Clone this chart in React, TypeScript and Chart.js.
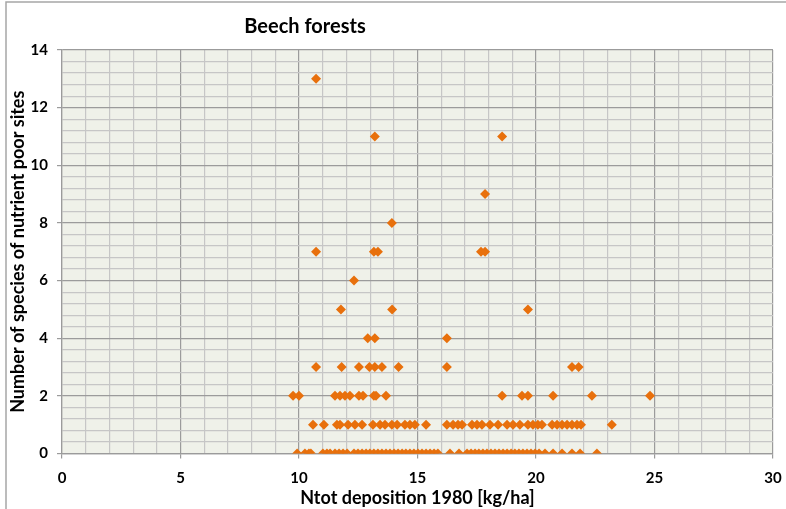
import React, { useEffect, useRef } from "react";
import { Chart, registerables } from "chart.js";

Chart.register(...registerables);

const chartTitle = "Beech forests";
const xTitle = "Ntot deposition 1980 [kg/ha]";
const yTitle = "Number of species of nutrient poor sites";

// Ntot deposition values for sites, grouped by number of species
const depositionAt0 = [9.92, 10.25, 10.42, 10.5, 11.01, 11.18, 11.31, 11.52, 11.69, 11.86, 12.03, 12.32, 12.49, 12.66, 12.83, 12.99, 13.16, 13.33, 13.5, 13.67, 13.84, 14.01, 14.18, 14.35, 14.51, 14.68, 14.85, 15.02, 15.19, 15.36, 15.53, 15.7, 15.86, 16.37, 16.75, 17.09, 17.26, 17.43, 17.59, 17.76, 17.93, 18.1, 18.27, 18.44, 18.61, 18.78, 18.95, 19.11, 19.28, 19.45, 19.62, 19.79, 19.96, 20.13, 20.38, 20.72, 21.1, 21.52, 21.86, 22.57];
const depositionAt1 = [10.59, 11.05, 11.6, 11.73, 12.07, 12.36, 12.66, 13.12, 13.42, 13.63, 13.92, 14.14, 14.47, 14.68, 14.89, 15.36, 16.24, 16.5, 16.71, 16.88, 17.3, 17.51, 17.72, 18.06, 18.4, 18.78, 19.03, 19.32, 19.66, 19.87, 20.08, 20.25, 20.68, 20.89, 21.1, 21.31, 21.52, 21.73, 21.9, 23.2];
const depositionAt2 = [9.75, 10.0, 11.52, 11.73, 11.94, 12.15, 12.53, 12.7, 13.16, 13.25, 13.67, 18.57, 19.41, 19.66, 20.72, 22.36, 24.81];
const depositionAt3 = [10.72, 11.8, 12.53, 12.97, 13.2, 13.5, 14.2, 16.24, 21.52, 21.8];
const depositionAt4 = [12.9, 13.2, 16.24];
const depositionAt5 = [11.77, 13.93, 19.66];
const depositionAt6 = [12.32];
const depositionAt7 = [10.72, 13.16, 13.33, 17.68, 17.85];
const depositionAt8 = [13.92];
const depositionAt9 = [17.85];
const depositionAt11 = [13.2, 18.57];
const depositionAt13 = [10.72];

const speciesCounts = [0, 1, 2, 3, 4, 5, 6, 7, 8, 9, 11, 13];
const depositionGroups = [depositionAt0, depositionAt1, depositionAt2, depositionAt3, depositionAt4, depositionAt5, depositionAt6, depositionAt7, depositionAt8, depositionAt9, depositionAt11, depositionAt13];

const xMin = 0, xMax = 30, xStep = 1, xLabelEvery = 5;
const yMin = 0, yMax = 14, yStepTenths = 4, yLabelEvery = 2;

const MAJOR = "#9b9b9b";
const MINOR = "#c6c6c6";
const FONT = "Lato, 'Open Sans', sans-serif";

export default function App() {
  const ref = useRef<HTMLCanvasElement | null>(null);
  useEffect(() => {
    if (!ref.current) return;
    const points: { x: number; y: number }[] = [];
    speciesCounts.forEach((c, i) => {
      depositionGroups[i].forEach((x) => points.push({ x, y: c }));
    });
    const framePlugin = {
      id: "frame",
      beforeDraw(chart: any) {
        const { ctx, chartArea: a } = chart;
        ctx.save();
        ctx.fillStyle = "#ffffff";
        ctx.fillRect(0, 0, chart.width, chart.height);
        ctx.fillStyle = "#eff1e9";
        ctx.fillRect(a.left, a.top, a.right - a.left, a.bottom - a.top);
        ctx.strokeStyle = "#a6a6a6";
        ctx.lineWidth = 1.5;
        ctx.strokeRect(6, 2, 900, 700);
        ctx.restore();
      },
      afterDraw(chart: any) {
        const { ctx } = chart;
        ctx.save();
        ctx.fillStyle = "#000";
        ctx.font = `bold 20px ${FONT}`;
        ctx.textAlign = "center";
        ctx.textBaseline = "middle";
        ctx.fillText(chartTitle, 305, 27);
        ctx.restore();
      },
    };
    const chart = new Chart(ref.current, {
      type: "scatter",
      data: {
        datasets: [
          {
            data: points,
            pointStyle: "rectRot",
            pointRadius: 5,
            pointBackgroundColor: "#e8700c",
            pointBorderColor: "#e8700c",
            pointBorderWidth: 0,
          },
        ],
      },
      options: {
        animation: false,
        responsive: false,
        devicePixelRatio: 1,
        layout: { padding: { left: 0, right: 13, top: 50, bottom: 0 } },
        plugins: { legend: { display: false }, tooltip: { enabled: false }, title: { display: false } },
        scales: {
          x: {
            type: "linear",
            min: xMin,
            max: xMax,
            afterBuildTicks: (s: any) => {
              const t = [];
              for (let v = xMin; v <= xMax; v += xStep) t.push({ value: v });
              s.ticks = t;
            },
            afterFit: (s: any) => { s.height = 55.5; s.paddingRight = 0; s.paddingLeft = 0; },
            ticks: {
              autoSkip: false,
              maxRotation: 0,
              padding: 11,
              color: "#000",
              font: { family: FONT, size: 15, weight: "bold" },
              callback: (v: any) => (Number(v) % xLabelEvery === 0 ? String(v) : ""),
            },
            grid: {
              color: (c: any) => (c.tick && c.tick.value % xLabelEvery === 0 ? MAJOR : MINOR),
              tickColor: (c: any) => (c.tick && c.tick.value % xLabelEvery === 0 ? MAJOR : "rgba(0,0,0,0)"),
              tickLength: 5,
              lineWidth: 1.2,
            },
            border: { color: MAJOR, width: 1.2 },
            title: {
              display: true,
              text: xTitle,
              color: "#000",
              font: { family: FONT, size: 18, weight: "bold" },
              padding: { top: 0, bottom: 0 },
            },
          },
          y: {
            type: "linear",
            min: yMin,
            max: yMax,
            afterBuildTicks: (s: any) => {
              const t = [];
              for (let i = yMin * 10; i <= yMax * 10; i += yStepTenths) t.push({ value: i / 10 });
              s.ticks = t;
            },
            afterFit: (s: any) => { s.width = 62; s.paddingTop = 0; s.paddingBottom = 0; },
            ticks: {
              autoSkip: false,
              padding: 9,
              color: "#000",
              font: { family: FONT, size: 15, weight: "bold" },
              callback: (v: any) => (Math.abs(Number(v) / yLabelEvery - Math.round(Number(v) / yLabelEvery)) < 1e-6 ? String(Math.round(Number(v))) : ""),
            },
            grid: {
              color: (c: any) => {
                const v = c.tick ? c.tick.value : 1;
                return Math.abs(v / yLabelEvery - Math.round(v / yLabelEvery)) < 1e-6 ? MAJOR : MINOR;
              },
              tickColor: (c: any) => {
                const v = c.tick ? c.tick.value : 1;
                return Math.abs(v / yLabelEvery - Math.round(v / yLabelEvery)) < 1e-6 ? MAJOR : "rgba(0,0,0,0)";
              },
              tickLength: 5,
              lineWidth: 1.2,
            },
            border: { color: MAJOR, width: 1.2 },
            title: {
              display: true,
              text: yTitle,
              color: "#000",
              font: { family: FONT, size: 18, weight: "bold" },
              padding: { top: 7, bottom: 2 },
            },
          },
        },
      },
      plugins: [framePlugin],
    } as any);
    return () => chart.destroy();
  }, []);
  return (
    <div style={{ position: "fixed", left: 0, top: 0, width: 786, height: 509 }}>
      <canvas ref={ref} width={786} height={509} style={{ width: 786, height: 509, display: "block" }} />
    </div>
  );
}
